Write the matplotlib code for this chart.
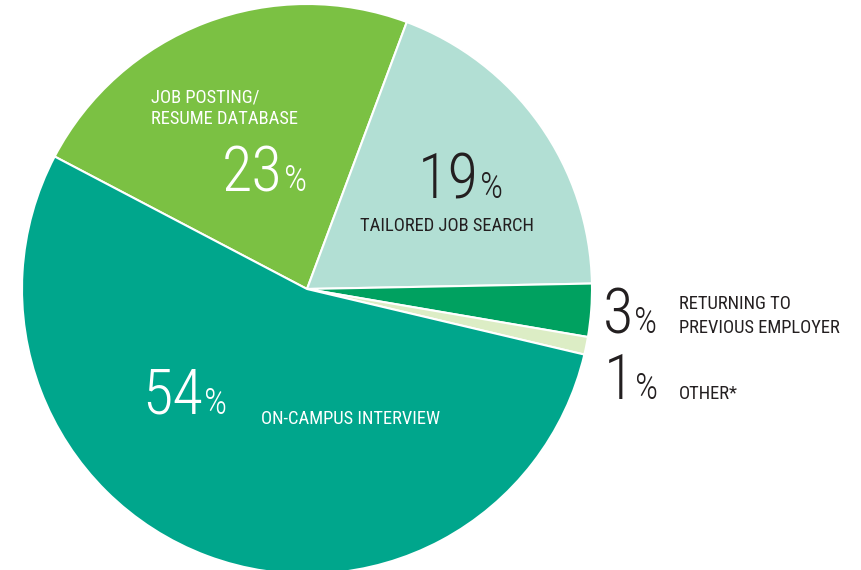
import matplotlib
matplotlib.use("Agg")
import matplotlib.pyplot as plt

# slice data, clockwise from the upper-left boundary
categories = ["JOB POSTING/\nRESUME DATABASE", "TAILORED JOB SEARCH",
              "RETURNING TO\nPREVIOUS EMPLOYER", "OTHER*", "ON-CAMPUS INTERVIEW"]
shares = [23, 19, 3, 1, 54]
colors = ["#7BC143", "#B2DFD4", "#00A160", "#DCEDC5", "#00A68C"]

W, H = 862, 570
NARROW = ["Roboto Condensed", "Liberation Sans Narrow", "DejaVu Sans"]
DARK = "#231F20"

fig = plt.figure(figsize=(W / 100, H / 100), dpi=100)
ax = fig.add_axes([0, 0, 1, 1])

ax.pie(shares, colors=colors, startangle=152.3, counterclock=False,
       center=(307, H - 289), radius=285,
       wedgeprops=dict(edgecolor="white", linewidth=1.5))
ax.set_xlim(0, W)
ax.set_ylim(0, H)
ax.set_aspect("equal")
ax.axis("off")

renderer = fig.canvas.get_renderer()


def y(p):
    return H - p


def big(x, base, num, color):
    t = ax.text(x, y(base), f"{num}", fontsize=45, family=NARROW,
                fontstretch="condensed", fontweight="light", color=color,
                ha="left", va="baseline")
    x1 = t.get_window_extent(renderer).x1
    ax.text(x1 + 1, y(base), "%", fontsize=26, family=NARROW,
            fontstretch="condensed", fontweight="light", color=color,
            ha="left", va="baseline")


def label(x, base, txt, color):
    ax.text(x, y(base), txt, fontsize=13.3, family=NARROW,
            fontstretch="condensed", color=color, ha="left", va="baseline")


# 23% job posting
label(151, 102, categories[0].split("\n")[0], "white")
label(151, 124, categories[0].split("\n")[1], "white")
big(222, 191, shares[0], "white")

# 19% tailored search
big(418, 198, shares[1], DARK)
label(360, 231, categories[1], DARK)

# 3% returning
big(603, 333, shares[2], DARK)
label(679, 309, categories[2].split("\n")[0], DARK)
label(679, 333, categories[2].split("\n")[1], DARK)

# 1% other
big(604, 399, shares[3], DARK)
label(679, 399, categories[3], DARK)

# 54% on-campus
big(142, 414, shares[4], "white")
label(261, 424, categories[4], "white")

fig.savefig("out.png", dpi=100)
